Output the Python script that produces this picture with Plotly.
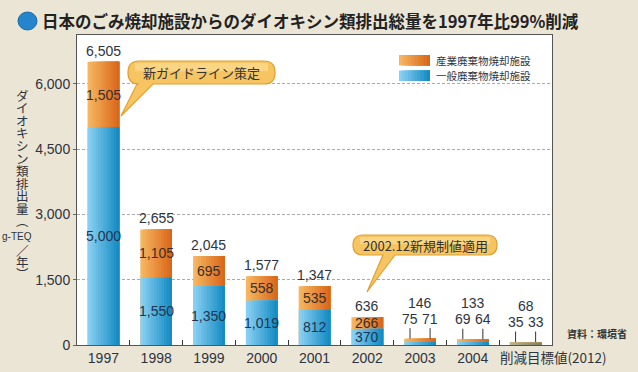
import plotly.graph_objects as go

# ---------------- data ----------------
categories = ["1997", "1998", "1999", "2000", "2001", "2002", "2003", "2004", "削減目標値(2012)"]
tick_labels = ["1997", "1998", "1999", "2000", "2001", "2002", "2003", "2004", "削減目標値(2012)"]
general_waste = [5000, 1550, 1350, 1019, 812, 370, 75, 69, 35]      # 一般廃棄物焼却施設
industrial_waste = [1505, 1105, 695, 558, 535, 266, 71, 64, 33]     # 産業廃棄物焼却施設
totals = [6505, 2655, 2045, 1577, 1347, 636, 146, 133, 68]
y_ticks = [0, 1500, 3000, 4500, 6000]

series_names = ["産業廃棄物焼却施設", "一般廃棄物焼却施設"]
title_text = "日本のごみ焼却施設からのダイオキシン類排出総量を1997年比99%削減"
y_title_chars = ["ダ", "イ", "オ", "キ", "シ", "ン", "類", "排", "出", "量", "︵"]
y_title_unit = "g-TEQ"
y_title_tail = ["／", "年", "︶"]
callout1 = "新ガイドライン策定"
callout2 = "2002.12新規制値適用"
source_text = "資料：環境省"

# ---------------- layout helpers ----------------
W, H = 638, 372
L, R, T, B = 77, 552, 35, 345
BG = "#ebe5d5"
NUMFONT = "Liberation Sans, Arial, Noto Sans CJK JP, sans-serif"
JPFONT = "Noto Sans CJK JP, sans-serif"
TXT = "#2e3440"


def px(x):
    return (x - L) / (R - L)


def py(y):
    return (B - y) / (B - T)


def lerp(c0, c1, t):
    return "rgb(%d,%d,%d)" % tuple(round(a + (b - a) * t) for a, b in zip(c0, c1))


def pann(x, y, text, size, family=JPFONT, color=TXT, xanchor="center", weight="normal"):
    return dict(xref="paper", yref="paper", x=px(x), y=py(y), text=text, showarrow=False,
                xanchor=xanchor, yanchor="middle", borderpad=0,
                font=dict(family=family, size=size, color=color, weight=weight))


ORANGE = ((246, 182, 95), (218, 104, 28))
BLUE = ((136, 208, 242), (22, 140, 196))
ORANGE_MUTED = ((200, 182, 128), (165, 140, 90))
BLUE_MUTED = ((175, 178, 150), (125, 128, 100))

fig = go.Figure()

N = 12
BW = 0.6
n_cat = len(categories)
for values, cols, muted in ((totals, ORANGE, ORANGE_MUTED), (general_waste, BLUE, BLUE_MUTED)):
    for i in range(N):
        t = i / (N - 1)
        c = lerp(cols[0], cols[1], t)
        cm = lerp(muted[0], muted[1], t)
        colors = [c] * (n_cat - 1) + [cm]
        fig.add_trace(go.Bar(
            x=categories, y=values,
            offset=-BW / 2 + i * BW / N, width=BW - i * BW / N,
            marker=dict(color=colors, line=dict(width=0)),
            showlegend=False, hoverinfo="skip",
        ))

annotations = []
shapes = []

# value labels (x given as category index)
for i in range(n_cat):
    g, ind, tot = general_waste[i], industrial_waste[i], totals[i]
    if tot >= 300:
        annotations.append(dict(x=i, y=tot, text=f"{tot:,}", showarrow=False, xanchor="center",
                                yanchor="bottom", yshift=1,
                                font=dict(family=NUMFONT, size=14, color=TXT)))
        annotations.append(dict(x=i, y=g + ind / 2, text=f"{ind:,}", showarrow=False, xanchor="center",
                                yanchor="middle", font=dict(family=NUMFONT, size=14, color="#3a2e28")))
        annotations.append(dict(x=i, y=g / 2, text=f"{g:,}", showarrow=False, xanchor="center",
                                yanchor="middle", font=dict(family=NUMFONT, size=14, color="#1e3550")))
    else:
        annotations.append(dict(x=i, y=tot, text=f"{tot:,}", showarrow=False, yshift=36, xanchor="center",
                                yanchor="middle", font=dict(family=NUMFONT, size=14, color=TXT)))
        for sgn, v in ((-1, g), (1, ind)):
            annotations.append(dict(x=i + sgn * 0.19, y=tot, text=f"{v:,}",
                                    showarrow=True, arrowhead=0, arrowwidth=1, arrowcolor="#333",
                                    ax=0, ay=-20, font=dict(family=NUMFONT, size=14, color=TXT)))

# title
shapes.append(dict(type="circle", xref="paper", yref="paper", x0=px(18), x1=px(37), y0=py(30), y1=py(12),
                   fillcolor="#2585cc", line=dict(color="#1a6aa8", width=1)))
annotations.append(pann(41, 21, title_text, 16.5, color="#222222", xanchor="left", weight="bold"))

# y-axis title (vertical)
ypos = 95
for ch in y_title_chars:
    annotations.append(pann(22, ypos, ch, 12.5))
    ypos += 12.6
annotations.append(pann(17, 236, y_title_unit, 10, family=NUMFONT))
ypos = 250
for ch in y_title_tail:
    annotations.append(pann(22, ypos, ch, 12.5))
    ypos += 11.5

# legend (manual)
for k, (name, cols) in enumerate(zip(series_names, (ORANGE, BLUE))):
    y0, y1 = 55 + k * 15.5, 65.5 + k * 15.5
    n = 10
    for j in range(n):
        xa = 399 + j * 31 / n
        shapes.append(dict(type="rect", xref="paper", yref="paper", x0=px(xa), x1=px(430), y0=py(y1), y1=py(y0),
                           fillcolor=lerp(cols[0], cols[1], j / (n - 1)), line=dict(width=0), layer="above"))
    annotations.append(pann(435, (y0 + y1) / 2, name, 10.5, xanchor="left"))


# callouts
def callout(x0, y0, x1, y1, r, t0, t1, tx, ty):
    pts = [("M", [(x0 + r, y0)]), ("L", [(x1 - r, y0)]), ("Q", [(x1, y0), (x1, y0 + r)]),
           ("L", [(x1, y1 - r)]), ("Q", [(x1, y1), (x1 - r, y1)]), ("L", [(t1, y1)]),
           ("L", [(tx, ty)]), ("L", [(t0, y1)]), ("L", [(x0 + r, y1)]),
           ("Q", [(x0, y1), (x0, y1 - r)]), ("L", [(x0, y0 + r)]), ("Q", [(x0, y0), (x0 + r, y0)])]
    s = ""
    for cmd, p in pts:
        s += cmd + " " + " ".join(f"{px(a):.5f},{py(b):.5f}" for a, b in p) + " "
    return s + "Z"


for (bx0, by0, bx1, by1, r, t0, t1, tx, ty, txt) in (
        (128, 61, 275, 84, 11, 137, 153, 121, 116, callout1),
        (353, 235, 497, 255, 10, 383, 395, 367, 292, callout2)):
    shapes.append(dict(type="path", xref="paper", yref="paper", path=callout(bx0, by0, bx1, by1, r, t0, t1, tx, ty),
                       fillcolor="#f6c562", line=dict(color="#e0a035", width=1.2), layer="above"))
    shapes.append(dict(type="rect", xref="paper", yref="paper", x0=px(bx0 + 7), x1=px(bx1 - 7),
                       y0=py(by0 + (by1 - by0) * 0.45), y1=py(by0 + 2),
                       fillcolor="rgba(255,236,175,0.45)", line=dict(width=0), layer="above"))
    annotations.append(pann((bx0 + bx1) / 2, (by0 + by1) / 2, txt, 13, color="#333333"))

# last category label (shifted right like the reference)
annotations.append(pann(553, 357, tick_labels[-1], 13.5))

# source
annotations.append(pann(566, 333, source_text, 10, color="#333333", xanchor="left", weight="bold"))

fig.update_layout(
    width=W, height=H,
    margin=dict(l=L, r=W - R, t=T, b=H - B, autoexpand=False),
    paper_bgcolor=BG, plot_bgcolor="white",
    barmode="overlay", bargap=0.4,
    showlegend=False, hovermode=False,
    annotations=annotations, shapes=shapes,
    xaxis=dict(type="category", tickmode="array", tickvals=categories,
               ticktext=tick_labels[:-1] + [""], automargin=False,
               tickson="boundaries", ticks="inside", ticklen=5, tickcolor="#333",
               showline=True, linecolor="#555", linewidth=1, mirror=True,
               tickfont=dict(family=NUMFONT, size=14, color=TXT), showgrid=False,
               range=[-0.5, n_cat - 0.5]),
    yaxis=dict(range=[0, 7120], tickvals=y_ticks, tickformat=",", ticks="outside", ticklen=3,
               automargin=False,
               tickcolor="#666", showline=True, linecolor="#555", linewidth=1, mirror=True,
               showgrid=True, gridcolor="#aaaaaa", griddash="3px,2px", gridwidth=1, zeroline=False,
               tickfont=dict(family=NUMFONT, size=14, color=TXT)),
)

fig.write_html("out.html", config={"displayModeBar": False, "staticPlot": True},
               post_script="document.body.style.margin='0px';document.body.style.background='%s';" % BG)
